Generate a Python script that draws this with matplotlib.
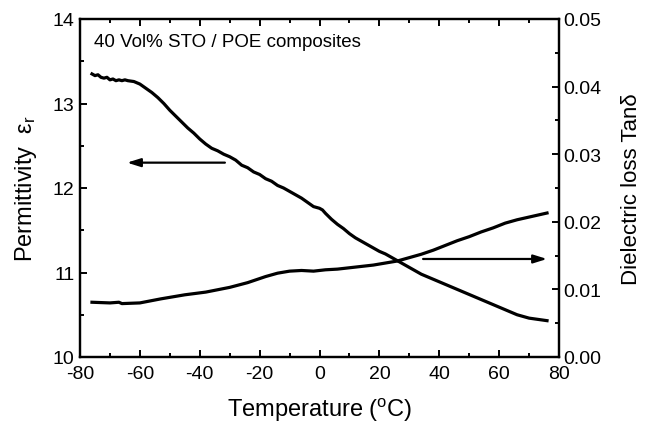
import matplotlib
matplotlib.use("Agg")
import matplotlib.pyplot as plt
from matplotlib.ticker import MultipleLocator

plt.rcParams["font.family"] = ["Liberation Sans", "DejaVu Sans"]
plt.rcParams["mathtext.default"] = "regular"
plt.rcParams["axes.unicode_minus"] = False

# Permittivity vs temperature
temp_eps = [-76, -75, -74, -73, -72, -71, -70, -69, -68, -67, -66, -65, -64, -62,
            -60, -58, -56, -54, -52, -50, -48, -46, -44, -42, -40, -38, -36, -34,
            -32, -30, -28, -26, -24, -22, -20, -18, -16, -14, -12, -10, -8, -6,
            -4, -2, 0, 1, 2, 4, 6, 8, 10, 12, 14, 16, 18, 20, 22, 24, 26, 28, 30,
            32, 34, 36, 38, 40, 42, 44, 46, 48, 50, 52, 54, 56, 58, 60, 62, 64,
            66, 68, 70, 72, 74, 76]
permittivity = [13.35, 13.33, 13.34, 13.31, 13.30, 13.31, 13.28, 13.29, 13.27, 13.28,
                13.27, 13.28, 13.27, 13.26, 13.23, 13.18, 13.13, 13.07, 13.00, 12.92,
                12.85, 12.78, 12.71, 12.65, 12.58, 12.52, 12.47, 12.44, 12.40, 12.37,
                12.33, 12.27, 12.24, 12.19, 12.16, 12.11, 12.08, 12.03, 12.00, 11.96,
                11.92, 11.88, 11.83, 11.78, 11.76, 11.74, 11.70, 11.63, 11.57, 11.52,
                11.46, 11.41, 11.37, 11.33, 11.29, 11.25, 11.22, 11.18, 11.14, 11.10,
                11.06, 11.02, 10.98, 10.95, 10.92, 10.89, 10.86, 10.83, 10.80, 10.77,
                10.74, 10.71, 10.68, 10.65, 10.62, 10.59, 10.56, 10.53, 10.50, 10.48,
                10.46, 10.45, 10.44, 10.43]

# Dielectric loss vs temperature
temp_tan = [-76, -70, -67, -66, -60, -53, -45, -38, -30, -24, -18, -14, -10, -6, -2,
            2, 6, 10, 14, 18, 22, 26, 30, 34, 38, 42, 46, 50, 54, 58, 62, 66, 70, 74, 76]
tan_delta = [0.0081, 0.0080, 0.0081, 0.0079, 0.0080, 0.0086, 0.0092, 0.0096, 0.0103,
             0.0110, 0.0119, 0.0124, 0.0127, 0.0128, 0.0127, 0.0129, 0.0130, 0.0132,
             0.0134, 0.0136, 0.0139, 0.0142, 0.0147, 0.0152, 0.0158, 0.0165, 0.0172,
             0.0178, 0.0185, 0.0191, 0.0198, 0.0203, 0.0207, 0.0211, 0.0213]

fig = plt.figure(figsize=(6.46, 4.27), dpi=100)
ax = fig.add_axes([80 / 646, 1 - 358 / 427, 479 / 646, 338 / 427])
ax2 = ax.twinx()

ax.plot(temp_eps, permittivity, color="black", lw=2.3)
ax2.plot(temp_tan, tan_delta, color="black", lw=2.3)

ax.set_xlim(-80, 80)
ax.set_ylim(10, 14)
ax2.set_ylim(0, 0.05)

ax.xaxis.set_major_locator(MultipleLocator(20))
ax.xaxis.set_minor_locator(MultipleLocator(10))
ax.yaxis.set_major_locator(MultipleLocator(1))
ax.yaxis.set_minor_locator(MultipleLocator(0.5))
ax2.yaxis.set_major_locator(MultipleLocator(0.01))
ax2.yaxis.set_minor_locator(MultipleLocator(0.005))
ax2.yaxis.set_major_formatter(plt.FormatStrFormatter("%.2f"))

for a in (ax, ax2):
    for s in a.spines.values():
        s.set_linewidth(1.6)
ax.tick_params(which="both", direction="in", top=True, right=False, width=1.4,
               labelsize=14)
ax.tick_params(axis="x", pad=6)
ax.tick_params(axis="y", pad=4)
ax.tick_params(which="major", length=5)
ax.tick_params(which="minor", length=3)
ax2.tick_params(which="both", direction="in", width=1.4, labelsize=14, pad=3)
ax2.tick_params(which="major", length=5)
ax2.tick_params(which="minor", length=3)

ax.set_xlabel("Temperature ($^{o}$C)", fontsize=17, labelpad=10)
ax.set_ylabel("Permittivity  ε$_{r}$", fontsize=17, labelpad=10)
ax2.set_ylabel("Dielectric loss Tanδ", fontsize=16, labelpad=14)

ax.text(0.03, 0.932, "40 Vol% STO / POE composites", transform=ax.transAxes,
        fontsize=13.5, va="center", ha="left")

arrow = dict(arrowstyle="-|>,head_length=0.8,head_width=0.25", color="black",
             lw=1.6, shrinkA=0, shrinkB=0)
ax.annotate("", xy=(-64.3, 12.30), xytext=(-31.6, 12.30), arrowprops=arrow)
ax2.annotate("", xy=(76.0, 0.0145), xytext=(34.6, 0.0145), arrowprops=arrow)

fig.savefig("out.png", dpi=100)
